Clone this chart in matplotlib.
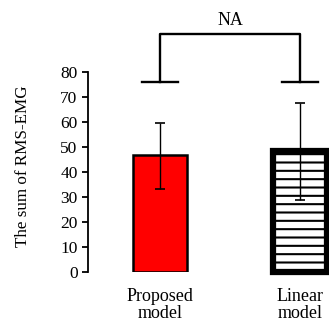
import matplotlib
matplotlib.use("Agg")
import matplotlib.pyplot as plt

models = ["Proposed\nmodel", "Linear\nmodel"]
means = [46.7, 48.3]
errs_low = [13.5, 19.5]
errs_high = [12.9, 19.1]
yticks = [0, 10, 20, 30, 40, 50, 60, 70, 80]
sig_label = "NA"

plt.rcParams["font.family"] = ["Liberation Serif", "DejaVu Serif"]
plt.rcParams["hatch.linewidth"] = 1.5

fig = plt.figure(figsize=(3.29, 3.25), dpi=100)
ax = fig.add_axes([0.2675, 0.164, 0.7325, 0.808])

xs = [0, 1]
ax.bar(xs[0], means[0], width=0.39, color="#ff0000", edgecolor="black", linewidth=1.8, zorder=2)
ax.bar(xs[1], means[1], width=0.39, color="white", edgecolor="black", linewidth=4.5,
       hatch="--", zorder=2, clip_on=False)
ax.errorbar(xs, means, yerr=[errs_low, errs_high], fmt="none", ecolor="black",
            elinewidth=1.0, capsize=3.5, capthick=1.2, zorder=3)

# significance bracket
foot_y = 76
top_y = 95
for x in xs:
    ax.plot([x - 0.13, x + 0.13], [foot_y, foot_y], color="black", lw=1.7, clip_on=False)
ax.plot([xs[0], xs[0], xs[1], xs[1]], [foot_y, top_y, top_y, foot_y], color="black", lw=1.7,
        clip_on=False)
ax.text(0.5, top_y + 2.2, sig_label, ha="center", va="bottom", fontsize=13)

ax.set_xlim(-0.514, 1.207)
ax.set_ylim(0, 105)
ax.set_yticks(yticks)
ax.set_xticks(xs)
ax.set_xticklabels(models, fontsize=13, linespacing=0.95)
ax.tick_params(axis="x", length=0, pad=12)
ax.tick_params(axis="y", direction="out", length=4.5, width=1.3, labelsize=12.5, pad=3)

for s in ["top", "right", "bottom"]:
    ax.spines[s].set_visible(False)
ax.spines["left"].set_bounds(0, 80)
ax.spines["left"].set_linewidth(1.3)

ax.set_ylabel("The sum of RMS-EMG", fontsize=12.3)
ax.yaxis.set_label_coords(-0.235, 0.40)

fig.savefig("out.png", dpi=100)
